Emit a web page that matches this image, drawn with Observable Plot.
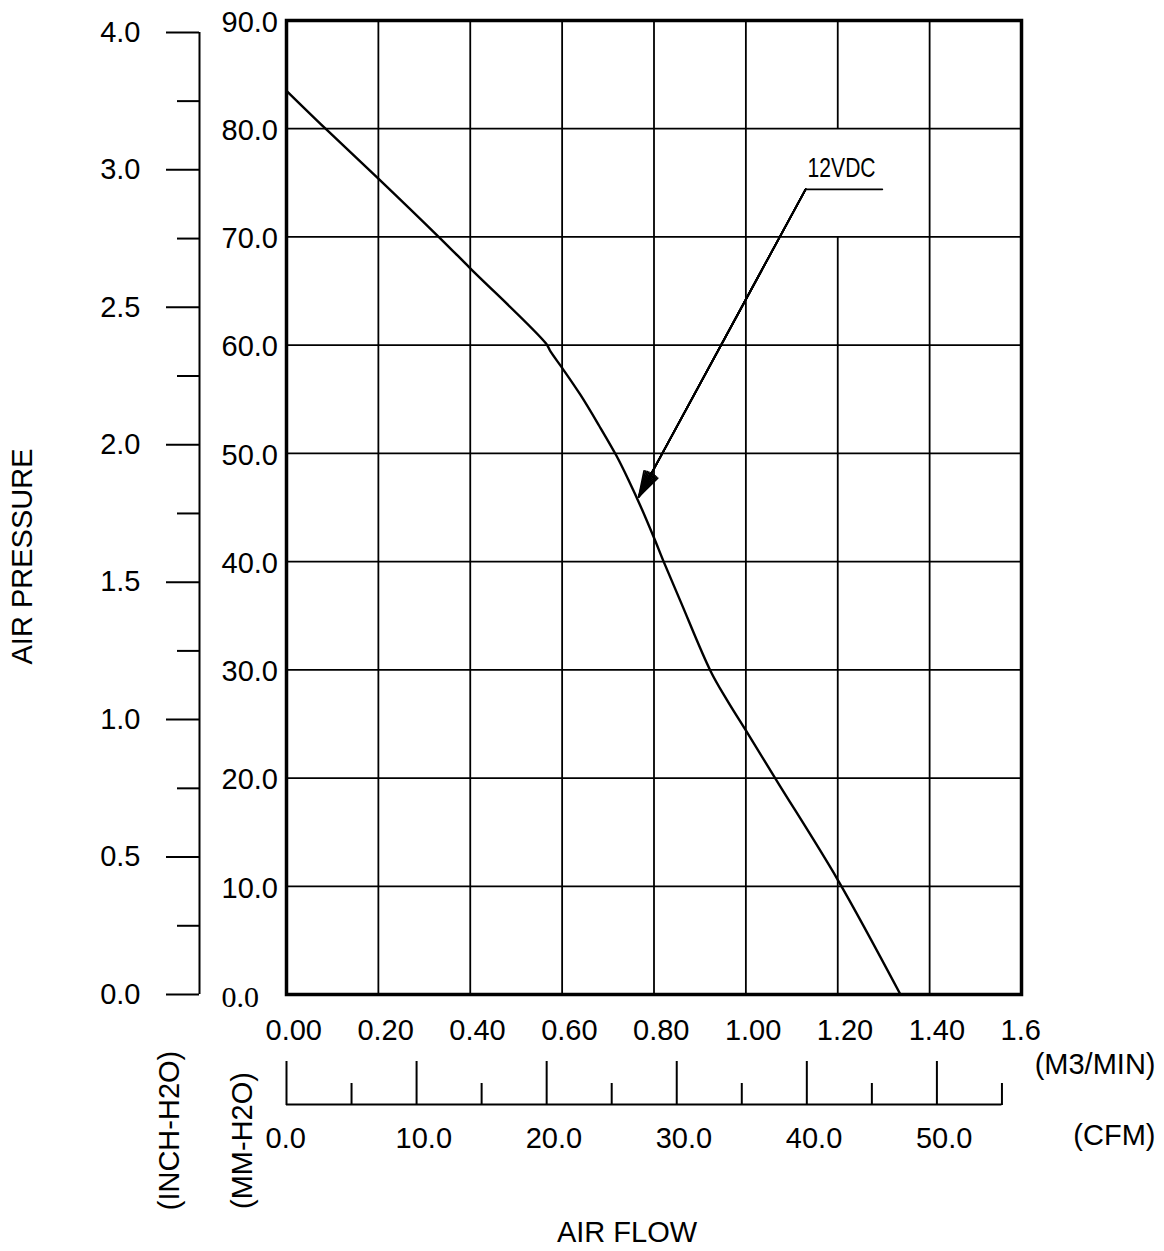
<!DOCTYPE html>
<html>
<head>
<meta charset="utf-8">
<script src="https://cdn.jsdelivr.net/npm/d3@7"></script>
<script src="https://cdn.jsdelivr.net/npm/@observablehq/plot@0.6"></script>
<style>
  html, body { margin: 0; padding: 0; background: #fff; }
  #chart svg { display: block; }
</style>
</head>
<body>
<div id="chart"></div>
<script>
// ---- data ----
// P-Q curve, 12VDC: air flow in M3/MIN, static pressure in MM-H2O
const flow     = [0, 0.085, 0.2, 0.334, 0.4, 0.565, 0.575, 0.6, 0.64, 0.68, 0.718, 0.745, 0.771, 0.8, 0.821, 0.858, 0.923, 0.959, 1.0, 1.068, 1.2, 1.3365];
const pressure = [83.5, 80.0, 75.4, 69.9, 67.1, 60.15, 59.4, 57.9, 55.4, 52.6, 49.8, 47.5, 45.1, 42.2, 40.0, 36.3, 29.9, 27.2, 24.4, 19.7, 10.6, 0];

// primary axes
const xTicks      = [0, 0.2, 0.4, 0.6, 0.8, 1.0, 1.2, 1.4, 1.6];
const xTickLabels = ["0.00", "0.20", "0.40", "0.60", "0.80", "1.00", "1.20", "1.40", "1.6"];
const xGrid       = [0.2, 0.4, 0.6, 0.8, 1.0, 1.2, 1.4];
const yGrid       = [10, 20, 30, 40, 50, 60, 70, 80];
const mmTicks      = [0, 10, 20, 30, 40, 50, 60, 70, 80, 90];
const mmTickLabels = ["0.0", "10.0", "20.0", "30.0", "40.0", "50.0", "60.0", "70.0", "80.0", "90.0"];
// the 1.20 grid line is interrupted between these pressures in the reference
const gridGapX = 1.2;
const gridGapRange = [70, 80];

// secondary pressure axis (INCH-H2O): one labelled step = 12.7 mm-H2O
const inchStepMM      = 12.7;
const inchTickLabels  = ["0.0", "0.5", "1.0", "1.5", "2.0", "2.5", "3.0", "4.0"];

// secondary flow axis (CFM)
const CFM_TO_M3MIN = 0.0283168;
const cfmMajor  = [0, 10, 20, 30, 40, 50];
const cfmMinor  = [5, 15, 25, 35, 45, 55];
const cfmLabels = ["0.0", "10.0", "20.0", "30.0", "40.0", "50.0"];

// curve annotation (leader line end, elbow, arrow tip) in data units
const seriesLabel = "12VDC";
const leaderX  = [1.297, 1.13, 0.767];
const leaderY  = [74.4, 74.4, 46.0];

// texts
const yTitle = "AIR PRESSURE";
const xTitle = "AIR FLOW";
const inchUnit = "(INCH-H2O)";
const mmUnit = "(MM-H2O)";
const m3Unit = "(M3/MIN)";
const cfmUnit = "(CFM)";

// ---- build ----
const sans = "'Liberation Sans', Arial, Helvetica, sans-serif";
const serif = "'Liberation Serif', 'Times New Roman', serif";

const curveData = flow.map((x, i) => ({x, y: pressure[i]}));
const vSegs = [];
for (const x of xGrid) {
  if (x === gridGapX) {
    vSegs.push({x, y1: 0, y2: gridGapRange[0]}, {x, y1: gridGapRange[1], y2: 90});
  } else {
    vSegs.push({x, y1: 0, y2: 90});
  }
}
const inchMajor = inchTickLabels.map((t, i) => i * inchStepMM);
const inchMinor = inchTickLabels.slice(1).map((t, i) => (i + 0.5) * inchStepMM);
const mmData = mmTicks.map((v, i) => ({v, t: mmTickLabels[i]}));
const xData = xTicks.map((v, i) => ({v, t: xTickLabels[i]}));
const cfmData = cfmMajor.map((v, i) => ({v: v * CFM_TO_M3MIN, t: cfmLabels[i]}));
const leaderPts = leaderX.map((x, i) => ({x, y: leaderY[i]}));
const arrowSeg = [{x1: leaderX[1], y1: leaderY[1], x2: leaderX[2], y2: leaderY[2]}];

const K = "#000";

const chart = Plot.plot({
  width: 1164,
  height: 1251,
  marginLeft: 286,
  marginRight: 143,
  marginTop: 20,
  marginBottom: 257,
  x: {domain: [0, 1.6]},
  y: {domain: [0, 90]},
  style: {background: "#fff", color: "#000", fontFamily: sans, fontSize: "29px", overflow: "visible"},
  marks: [
    // grid
    Plot.ruleY(yGrid, {stroke: K, strokeWidth: 1.8}),
    Plot.ruleX(vSegs, {x: "x", y1: "y1", y2: "y2", stroke: K, strokeWidth: 1.8}),
    Plot.frame({stroke: K, strokeWidth: 3.5}),

    // curve
    Plot.line(curveData, {x: "x", y: "y", curve: "catmull-rom", stroke: K, strokeWidth: 2.4, strokeLinejoin: "round"}),

    // annotation
    Plot.line(leaderPts.slice(0, 2), {x: "x", y: "y", stroke: K, strokeWidth: 1.8}),
    ...[34, 27, 20, 13, 6, 1].map(a => Plot.arrow(arrowSeg, {
      x1: "x1", y1: "y1", x2: "x2", y2: "y2",
      headAngle: a, headLength: 22, stroke: K, strokeWidth: 1.8
    })),
    Plot.text([seriesLabel], {x: () => leaderX[1], y: () => leaderY[1], dx: 2, dy: -21,
      textAnchor: "start", lineAnchor: "middle", fontSize: 28, text: d => d}),

    // mm-H2O labels
    Plot.text(mmData.filter(d => d.v > 0), {y: "v", text: "t", frameAnchor: "left", dx: -65, dy: 2, textAnchor: "start", lineAnchor: "middle"}),
    Plot.text(mmData.filter(d => d.v === 0), {y: "v", text: "t", frameAnchor: "left", dx: -65, dy: 3, textAnchor: "start", lineAnchor: "middle", fontFamily: serif, fontSize: 30}),

    // INCH-H2O axis
    Plot.ruleX([0], {y1: 0, y2: inchMajor[inchMajor.length - 1], dx: -87, stroke: K, strokeWidth: 2}),
    Plot.axisY(inchMajor, {anchor: "left", dx: -87, tickSize: 33, tickPadding: 26,
      tickFormat: d => inchTickLabels[Math.round(d / inchStepMM)], stroke: K, strokeWidth: 2, label: null}),
    Plot.axisY(inchMinor, {anchor: "left", dx: -87, tickSize: 22, tickFormat: () => "", stroke: K, strokeWidth: 2, label: null}),

    // M3/MIN labels
    Plot.text(xData, {x: "v", text: "t", frameAnchor: "bottom", dy: 36, dx: -21, textAnchor: "start", lineAnchor: "middle"}),

    // CFM axis
    Plot.ruleY([0], {x1: 0, x2: cfmMinor[cfmMinor.length - 1] * CFM_TO_M3MIN, dy: 110, stroke: K, strokeWidth: 2}),
    Plot.axisX(cfmMajor.map(c => c * CFM_TO_M3MIN), {anchor: "top", dy: 1084, tickSize: 44, tickFormat: () => "", stroke: K, strokeWidth: 2, label: null}),
    Plot.axisX(cfmMinor.map(c => c * CFM_TO_M3MIN), {anchor: "top", dy: 1084, tickSize: 22, tickFormat: () => "", stroke: K, strokeWidth: 2, label: null}),
    Plot.text(cfmData, {x: "v", text: "t", frameAnchor: "bottom", dy: 144, dx: -21, textAnchor: "start", lineAnchor: "middle"}),

    // titles and units
    Plot.text([yTitle], {text: d => d, frameAnchor: "left", dx: -264, dy: 49, rotate: -90, textAnchor: "middle", lineAnchor: "middle"}),
    Plot.text([xTitle], {text: d => d, frameAnchor: "bottom", dx: -27, dy: 238, textAnchor: "middle", lineAnchor: "middle"}),
    Plot.text([inchUnit], {text: d => d, frameAnchor: "bottom-left", dx: -117, dy: 136, rotate: -90, textAnchor: "middle", lineAnchor: "middle"}),
    Plot.text([mmUnit], {text: d => d, frameAnchor: "bottom-left", dx: -44, dy: 146, rotate: -90, textAnchor: "middle", lineAnchor: "middle"}),
    Plot.text([m3Unit], {text: d => d, frameAnchor: "bottom-right", dx: 134, dy: 70, textAnchor: "end", lineAnchor: "middle"}),
    Plot.text([cfmUnit], {text: d => d, frameAnchor: "bottom-right", dx: 134, dy: 141, textAnchor: "end", lineAnchor: "middle"})
  ]
});

// condensed look of the series label
d3.select(chart).selectAll("text")
  .filter(function () { return this.textContent === seriesLabel; })
  .attr("textLength", 68)
  .attr("lengthAdjust", "spacingAndGlyphs");

document.getElementById("chart").appendChild(chart);
</script>
</body>
</html>
